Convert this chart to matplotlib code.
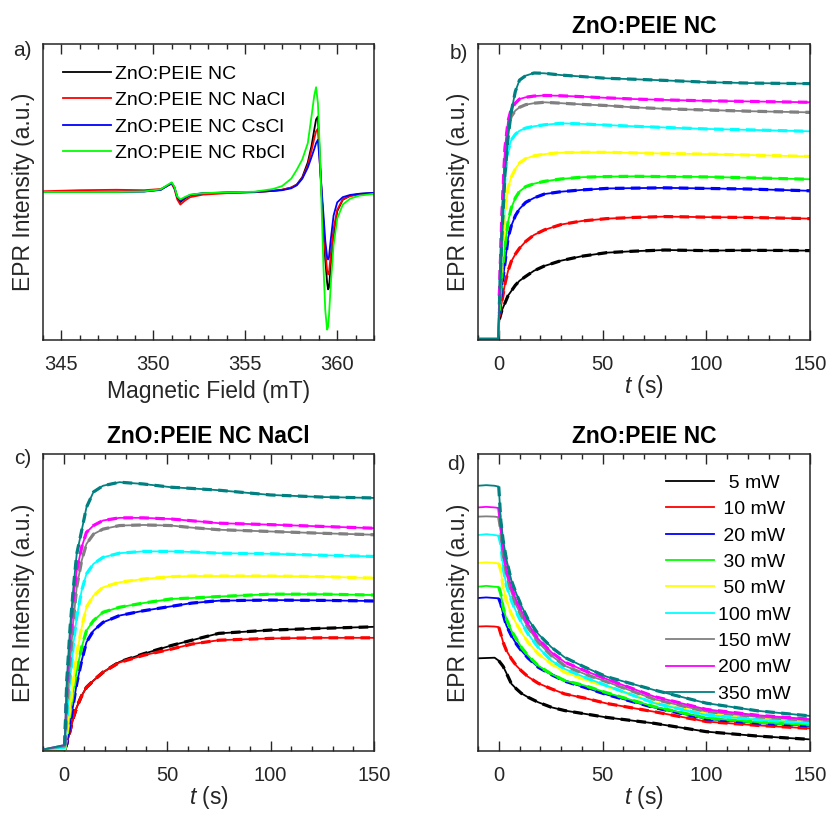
import matplotlib
matplotlib.use("Agg")
import numpy as np
import matplotlib.pyplot as plt

plt.rcParams['font.family'] = ['Liberation Sans', 'DejaVu Sans']
plt.rcParams['mathtext.fontset'] = 'custom'
plt.rcParams['mathtext.it'] = 'Liberation Sans:italic'
plt.rcParams['mathtext.rm'] = 'Liberation Sans'

DARK = '#262626'

# ---- a) EPR spectra ----
field = [344, 346, 348, 349.5, 350.4, 350.8, 351.0, 351.15, 351.3, 351.47, 351.7, 352.0,
         352.7, 354, 355.5, 356.5, 357.0, 357.5, 357.8, 358.1, 358.4, 358.6, 358.75, 358.85,
         358.95, 359.05, 359.15, 359.25, 359.35, 359.45, 359.5, 359.55, 359.65, 359.8, 360.0,
         360.3, 360.7, 361.2, 362]
spec_nc = [0.0, 0.0, 0.003, 0.005, 0.016, 0.045, 0.06, 0.03, -0.035, -0.068, -0.045, -0.022,
           -0.01, -0.004, 0.0, 0.008, 0.015, 0.03, 0.05, 0.1, 0.2, 0.31, 0.42, 0.49,
           0.51, 0.25, -0.007, -0.23, -0.456, -0.61, -0.658, -0.647, -0.5, -0.3, -0.13,
           -0.052, -0.025, -0.013, -0.006]
spec_nacl = [0.005, 0.012, 0.015, 0.012, 0.02, 0.045, 0.055, 0.02, -0.05, -0.085, -0.06, -0.035,
             -0.018, -0.008, -0.002, 0.008, 0.015, 0.03, 0.05, 0.095, 0.18, 0.28, 0.36, 0.41,
             0.427, 0.2, -0.01, -0.2, -0.40, -0.53, -0.557, -0.55, -0.42, -0.25, -0.12,
             -0.05, -0.028, -0.016, -0.008]
spec_cscl = [0.0, 0.0, 0.0, 0.003, 0.014, 0.045, 0.06, 0.03, -0.035, -0.06, -0.04, -0.02,
             -0.008, -0.003, 0.0, 0.007, 0.012, 0.025, 0.045, 0.09, 0.165, 0.235, 0.29, 0.33,
             0.353, 0.2, 0.02, -0.15, -0.33, -0.44, -0.456, -0.44, -0.32, -0.16, -0.07,
             -0.035, -0.02, -0.012, -0.006]
spec_rbcl = [0.0, 0.0, 0.0, 0.004, 0.018, 0.05, 0.065, 0.035, -0.03, -0.05, -0.035, -0.018,
             -0.008, -0.003, 0.002, 0.02, 0.04, 0.09, 0.15, 0.22, 0.33, 0.51, 0.65, 0.708,
             0.6, 0.3, -0.1, -0.5, -0.8, -0.93, -0.91, -0.84, -0.62, -0.36, -0.18,
             -0.085, -0.045, -0.025, -0.012]
spec_labels = ['ZnO:PEIE NC', 'ZnO:PEIE NC NaCl', 'ZnO:PEIE NC CsCl', 'ZnO:PEIE NC RbCl']
spec_colors = ['#000000', '#ff0000', '#0000ff', '#00ff00']

# ---- power series ----
power_labels = ['  5 mW', ' 10 mW', ' 20 mW', ' 30 mW', ' 50 mW', '100 mW', '150 mW', '200 mW', '350 mW']
power_colors = ['#000000', '#ff0000', '#0000ff', '#00ff00', '#ffff00', '#00ffff',
                '#808080', '#ff00ff', '#008080']

# b) build-up, ZnO:PEIE NC
t_b = [-10, -0.3, 0.3, 1.5, 3, 4.5, 6, 8, 10, 13, 17, 22, 30, 40, 52, 65, 80, 100, 120, 150]
rise_nc = [
    [0.004, 0.004, 0.07, 0.10, 0.125, 0.15, 0.165, 0.185, 0.20, 0.215, 0.234, 0.25, 0.268, 0.283, 0.295, 0.30, 0.304, 0.302, 0.303, 0.302],
    [0.004, 0.004, 0.08, 0.13, 0.19, 0.234, 0.265, 0.29, 0.31, 0.333, 0.355, 0.372, 0.39, 0.402, 0.41, 0.414, 0.417, 0.415, 0.414, 0.41],
    [0.004, 0.004, 0.09, 0.18, 0.26, 0.345, 0.385, 0.42, 0.443, 0.465, 0.48, 0.493, 0.501, 0.507, 0.512, 0.513, 0.514, 0.512, 0.51, 0.504],
    [0.004, 0.004, 0.10, 0.22, 0.32, 0.40, 0.445, 0.48, 0.502, 0.518, 0.528, 0.536, 0.544, 0.55, 0.552, 0.553, 0.552, 0.551, 0.548, 0.543],
    [0.004, 0.004, 0.12, 0.28, 0.43, 0.515, 0.55, 0.578, 0.598, 0.613, 0.622, 0.628, 0.633, 0.634, 0.634, 0.632, 0.63, 0.628, 0.625, 0.62],
    [0.004, 0.004, 0.14, 0.35, 0.555, 0.64, 0.675, 0.695, 0.707, 0.716, 0.722, 0.727, 0.732, 0.73, 0.726, 0.722, 0.718, 0.713, 0.71, 0.705],
    [0.004, 0.004, 0.15, 0.40, 0.63, 0.72, 0.755, 0.775, 0.786, 0.795, 0.80, 0.803, 0.80, 0.796, 0.792, 0.786, 0.781, 0.777, 0.773, 0.769],
    [0.004, 0.004, 0.15, 0.42, 0.65, 0.74, 0.78, 0.80, 0.814, 0.82, 0.824, 0.826, 0.825, 0.822, 0.818, 0.814, 0.811, 0.808, 0.806, 0.803],
    [0.004, 0.004, 0.12, 0.35, 0.56, 0.685, 0.77, 0.84, 0.878, 0.893, 0.902, 0.901, 0.895, 0.89, 0.884, 0.881, 0.877, 0.871, 0.868, 0.866],
]

# c) build-up, ZnO:PEIE NC NaCl
t_c = [-10, 0.5, 1.5, 3.1, 4.7, 6.3, 8.7, 11, 14.4, 19, 27, 38.5, 52, 62, 75, 100, 125, 150]
rise_nacl = [
    [0.005, 0.005, 0.024, 0.068, 0.113, 0.147, 0.186, 0.214, 0.237, 0.265, 0.30, 0.327, 0.355, 0.373, 0.396, 0.407, 0.413, 0.418],
    [0.005, 0.005, 0.024, 0.068, 0.113, 0.147, 0.186, 0.214, 0.237, 0.265, 0.298, 0.322, 0.343, 0.36, 0.373, 0.379, 0.381, 0.381],
    [0.005, 0.005, 0.024, 0.091, 0.158, 0.226, 0.304, 0.366, 0.405, 0.433, 0.456, 0.472, 0.487, 0.498, 0.506, 0.508, 0.507, 0.505],
    [0.005, 0.005, 0.045, 0.125, 0.203, 0.27, 0.349, 0.405, 0.439, 0.467, 0.484, 0.498, 0.512, 0.515, 0.52, 0.528, 0.528, 0.525],
    [0.005, 0.005, 0.06, 0.147, 0.237, 0.327, 0.416, 0.484, 0.523, 0.551, 0.568, 0.579, 0.587, 0.589, 0.589, 0.589, 0.587, 0.582],
    [0.005, 0.01, 0.10, 0.237, 0.36, 0.45, 0.54, 0.596, 0.63, 0.652, 0.666, 0.672, 0.672, 0.67, 0.666, 0.664, 0.659, 0.655],
    [0.005, 0.015, 0.147, 0.304, 0.439, 0.551, 0.641, 0.697, 0.73, 0.747, 0.759, 0.761, 0.759, 0.752, 0.745, 0.739, 0.733, 0.728],
    [0.005, 0.02, 0.214, 0.37, 0.517, 0.607, 0.686, 0.736, 0.759, 0.776, 0.785, 0.785, 0.781, 0.775, 0.767, 0.762, 0.756, 0.75],
    [0.005, 0.02, 0.237, 0.416, 0.551, 0.663, 0.742, 0.82, 0.872, 0.893, 0.905, 0.899, 0.888, 0.884, 0.878, 0.862, 0.855, 0.852],
]

# d) decay after light off, ZnO:PEIE NC
t_d = [-10, -6, -2, 0, 1, 2.1, 3.7, 6.1, 8.5, 10.9, 14.1, 19, 25.4, 31.8, 41.5, 52, 75, 100, 125, 150]
decay_nc = [
    [0.312, 0.313, 0.314, 0.304, 0.295, 0.285, 0.262, 0.226, 0.209, 0.194, 0.181, 0.164, 0.147, 0.136, 0.125, 0.113, 0.093, 0.065, 0.05, 0.039],
    [0.419, 0.42, 0.419, 0.417, 0.394, 0.366, 0.338, 0.31, 0.287, 0.27, 0.25, 0.228, 0.209, 0.192, 0.178, 0.16, 0.132, 0.099, 0.086, 0.076],
    [0.515, 0.517, 0.515, 0.514, 0.495, 0.461, 0.422, 0.388, 0.36, 0.338, 0.313, 0.282, 0.257, 0.235, 0.214, 0.19, 0.146, 0.108, 0.094, 0.085],
    [0.553, 0.556, 0.553, 0.552, 0.529, 0.484, 0.444, 0.405, 0.377, 0.349, 0.321, 0.287, 0.259, 0.237, 0.22, 0.196, 0.149, 0.111, 0.097, 0.088],
    [0.633, 0.635, 0.633, 0.632, 0.607, 0.551, 0.506, 0.461, 0.428, 0.40, 0.366, 0.327, 0.293, 0.265, 0.24, 0.218, 0.163, 0.125, 0.108, 0.097],
    [0.727, 0.73, 0.727, 0.725, 0.697, 0.618, 0.557, 0.506, 0.467, 0.433, 0.394, 0.349, 0.304, 0.276, 0.248, 0.22, 0.161, 0.121, 0.105, 0.094],
    [0.789, 0.79, 0.789, 0.787, 0.742, 0.663, 0.596, 0.534, 0.489, 0.456, 0.416, 0.366, 0.321, 0.287, 0.259, 0.233, 0.174, 0.133, 0.115, 0.103],
    [0.82, 0.822, 0.82, 0.818, 0.76, 0.68, 0.61, 0.551, 0.506, 0.472, 0.428, 0.377, 0.332, 0.299, 0.27, 0.242, 0.183, 0.14, 0.12, 0.107],
    [0.893, 0.895, 0.893, 0.89, 0.775, 0.71, 0.645, 0.574, 0.529, 0.489, 0.444, 0.394, 0.349, 0.315, 0.282, 0.25, 0.205, 0.161, 0.135, 0.118],
]


def style_axes(ax, xlim, major, minor):
    ax.set_xlim(*xlim)
    ax.set_xticks(major)
    ax.set_xticks(minor, minor=True)
    ax.set_yticks([])
    ax.tick_params(axis='x', which='both', direction='in', top=True, colors=DARK,
                   labelsize=14.5, pad=11, width=1.0)
    ax.tick_params(axis='x', which='major', length=7.5)
    ax.tick_params(axis='x', which='minor', length=3.8)
    for s in ax.spines.values():
        s.set_color(DARK)
        s.set_linewidth(1.1)
    ax.set_ylabel('EPR Intensity (a.u.)', fontsize=16.5, color=DARK, labelpad=6)


def plot_kinetics(ax, t, series):
    t = np.asarray(t)
    fit = t >= 0
    lines = []
    for ys, c in zip(series, power_colors):
        ys = np.asarray(ys)
        ln, = ax.plot(t, ys, color=c, lw=1.3)
        ax.plot(t[fit], ys[fit], color=c, lw=2.3, linestyle=(0, (3, 2)))
        lines.append(ln)
    ax.set_ylim(0, 1)
    style_axes(ax, (-10, 150), [0, 50, 100, 150], np.arange(-10, 151, 10))
    ax.set_xlabel('$t$ (s)', fontsize=16.5, color=DARK, labelpad=-1)
    return lines


fig = plt.figure(figsize=(8.28, 8.13), dpi=100)
ax_a = fig.add_axes([0.0519, 0.5818, 0.3998, 0.3641])
ax_b = fig.add_axes([0.5773, 0.5818, 0.4010, 0.3641])
ax_c = fig.add_axes([0.0519, 0.0763, 0.3998, 0.3653])
ax_d = fig.add_axes([0.5773, 0.0763, 0.4010, 0.3653])

# a) spectra
for ys, c, lab in zip([spec_nc, spec_nacl, spec_cscl, spec_rbcl], spec_colors, spec_labels):
    ax_a.plot(field, ys, color=c, lw=1.3, label=lab)
ax_a.set_ylim(-1, 1)
style_axes(ax_a, (344, 362), [345, 350, 355, 360], np.arange(344, 363, 1))
ax_a.set_xlabel('Magnetic Field (mT)', fontsize=16.5, color=DARK, labelpad=4)
ax_a.legend(loc='upper left', bbox_to_anchor=(0.0595, 0.928), frameon=False, fontsize=14,
            handlelength=2.5, handletextpad=0.2, labelspacing=0.45, borderpad=0,
            borderaxespad=0)

# b), c), d) kinetics
plot_kinetics(ax_b, t_b, rise_nc)
ax_b.set_title('ZnO:PEIE NC', fontsize=16.5, fontweight='bold', pad=8)
plot_kinetics(ax_c, t_c, rise_nacl)
ax_c.set_title('ZnO:PEIE NC NaCl', fontsize=16.5, fontweight='bold', pad=8)
lines_d = plot_kinetics(ax_d, t_d, decay_nc)
ax_d.set_title('ZnO:PEIE NC', fontsize=16.5, fontweight='bold', pad=8)
ax_d.legend(lines_d, power_labels, loc='upper left', bbox_to_anchor=(0.565, 0.932),
            frameon=False, fontsize=14, handlelength=2.5, handletextpad=0.2,
            labelspacing=0.45, borderpad=0, borderaxespad=0)

# panel letters
for x, y, s in [(13, 41, 'a)'), (450, 44, 'b)'), (14, 449, 'c)'), (447, 455, 'd)')]:
    fig.text(x / 828, 1 - y / 813, s, fontsize=15, color=DARK, ha='left', va='top')

fig.savefig('out.png', dpi=100)
